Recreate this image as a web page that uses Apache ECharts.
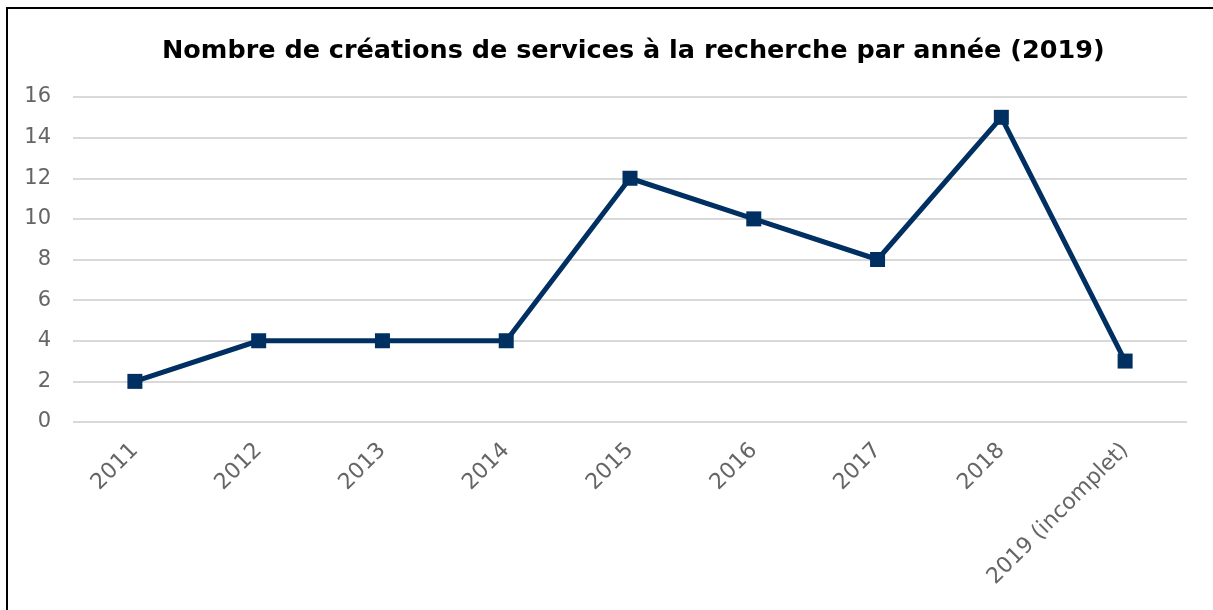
<!DOCTYPE html>
<html>
<head>
<meta charset="utf-8">
<script src="https://cdn.jsdelivr.net/npm/echarts@6/dist/echarts.min.js"></script>
<style>
  html, body { margin: 0; padding: 0; background: #fff; }
  #chart { width: 1213px; height: 610px; }
</style>
</head>
<body>
<div id="chart"></div>
<script>
// données
var annees = ['2011', '2012', '2013', '2014', '2015', '2016', '2017', '2018', '2019 (incomplet)'];
var creations = [2, 4, 4, 4, 12, 10, 8, 15, 3];
var titre = 'Nombre de créations de services à la recherche par année (2019)';

var myChart = echarts.init(document.getElementById('chart'));

var option = {
    backgroundColor: '#fff',
    animation: false,
    title: {
        text: titre,
        left: 157,
        top: 33,
        textStyle: {
            fontFamily: 'DejaVu Sans',
            fontWeight: 'bold',
            fontSize: 25.5,
            color: '#000'
        }
    },
    graphic: [{
        type: 'rect',
        shape: { x: 7, y: 8, width: 1400, height: 800 },
        style: { fill: 'none', stroke: '#000', lineWidth: 2 },
        silent: true
    }],
    grid: {
        left: 73,
        right: 26,
        top: 97,
        bottom: 188
    },
    xAxis: {
        type: 'category',
        data: annees,
        boundaryGap: true,
        axisLine: { show: false },
        axisTick: { show: false },
        axisLabel: {
            rotate: 45,
            margin: 25,
            color: '#656565',
            fontFamily: 'DejaVu Sans',
            fontSize: 22
        }
    },
    yAxis: {
        type: 'value',
        min: 0,
        max: 16,
        interval: 2,
        axisLine: { show: false },
        axisTick: { show: false },
        axisLabel: {
            margin: 22,
            color: '#656565',
            fontFamily: 'DejaVu Sans',
            fontSize: 21
        },
        splitLine: { lineStyle: { color: '#d9d9d9', width: 2 } }
    },
    series: [{
        name: 'Créations',
        type: 'line',
        data: creations,
        symbol: 'rect',
        symbolSize: 15,
        lineStyle: { color: '#002f62', width: 5 },
        itemStyle: { color: '#002f62' }
    }]
};
myChart.setOption(option);
</script>
</body>
</html>
